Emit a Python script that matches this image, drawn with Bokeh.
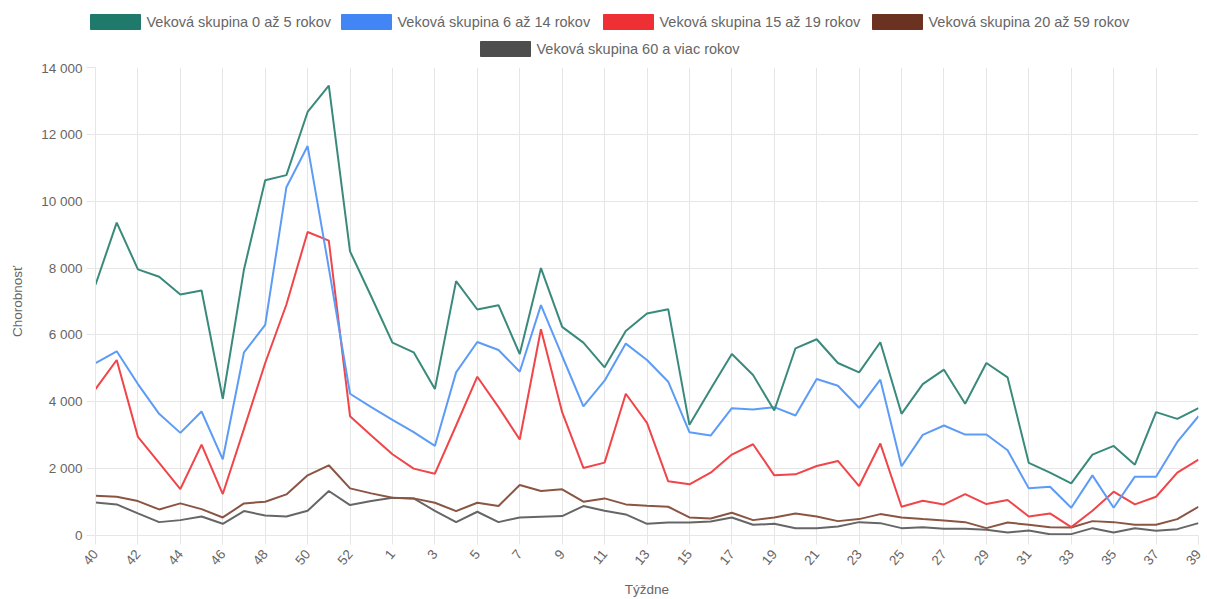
import math
from bokeh.plotting import figure
from bokeh.layouts import column, row
from bokeh.models import Range1d, FixedTicker
from bokeh.core.properties import value
from bokeh.embed import file_html
from bokeh.resources import INLINE

weeks = [str(w) for w in range(40, 54)] + [str(w) for w in range(1, 40)]

series_names = [
    "Veková skupina 0 až 5 rokov",
    "Veková skupina 6 až 14 rokov",
    "Veková skupina 15 až 19 rokov",
    "Veková skupina 20 až 59 rokov",
    "Veková skupina 60 a viac rokov",
]

age_0_5 = [7500, 9360, 7960, 7740, 7210, 7330, 4090, 7960, 10630, 10780, 12670, 13460, 8500,
           7150,
           5770, 5480, 4380, 7610, 6760, 6890, 5430, 8000, 6240, 5770, 5030, 6120,
           6640, 6770, 3310, 4380, 5430, 4800, 3740, 5600, 5870, 5160, 4880, 5780,
           3640, 4530, 4960, 3940, 5160, 4730, 2170, 1880, 1560, 2420, 2680, 2120, 3690, 3490, 3810]
age_6_14 = [5160, 5510, 4530, 3640, 3070, 3710, 2280, 5480, 6300, 10420, 11650, 8000, 4240,
            3840,
            3460, 3090, 2680, 4880, 5790, 5550, 4900, 6890, 5370, 3860, 4630, 5740,
            5250, 4600, 3090, 2990, 3810, 3770, 3840, 3590, 4680, 4480, 3820, 4660,
            2070, 3010, 3290, 3020, 3020, 2550, 1410, 1460, 830, 1800, 830, 1760, 1760, 2800, 3570]
age_15_19 = [4380, 5250, 2950, 2170, 1390, 2720, 1240, 3190, 5160, 6910, 9080, 8820, 3570,
             2990,
             2430, 2000, 1850, 3290, 4750, 3840, 2870, 6170, 3690, 2020, 2180, 4240,
             3370, 1620, 1530, 1880, 2420, 2730, 1800, 1830, 2080, 2230, 1480, 2750,
             860, 1040, 930, 1240, 940, 1060, 570, 660, 250, 740, 1310, 930, 1160, 1880, 2270]
age_20_59 = [1190, 1160, 1030, 780, 960, 790, 540, 960, 1010, 1230, 1800, 2100, 1410,
             1260,
             1130, 1110, 980, 730, 980, 880, 1510, 1330, 1380, 1010, 1110, 930,
             890, 860, 540, 510, 680, 460, 540, 660, 570, 430, 490, 640,
             540, 490, 450, 400, 220, 390, 320, 250, 240, 430, 400, 320, 320, 490, 860]
age_60 = [990, 930, 660, 400, 460, 570, 350, 730, 600, 570, 740, 1330, 910,
          1030,
          1130, 1110, 740, 400, 710, 400, 540, 560, 580, 880, 740, 630,
          350, 390, 390, 420, 540, 320, 350, 220, 220, 270, 400, 370,
          220, 250, 200, 200, 170, 90, 150, 40, 40, 220, 90, 220, 140, 190, 370]

y_ticks = [0, 2000, 4000, 6000, 8000, 10000, 12000, 14000]
y_tick_labels = ["0", "2 000", "4 000", "6 000", "8 000", "10 000", "12 000", "14 000"]

box_colors = ["#1f7a6b", "#4286f5", "#ee2f33", "#6b3222", "#4d4d4d"]
line_colors = ["#3a8a7c", "#5c9cf6", "#f04549", "#8a5543", "#666666"]

FONT = "Liberation Sans"
TXT = "#666666"
GRID = "#e6e6e6"
W = 1205

# ---------- legend strip (screen-pixel coordinates) ----------
leg_h = 60
leg = figure(width=W, height=leg_h, output_backend="svg", toolbar_location=None,
             x_range=Range1d(0, W), y_range=Range1d(leg_h, 0),
             min_border=0, min_border_left=0, min_border_right=0, min_border_top=0, min_border_bottom=0)
leg.axis.visible = False
leg.grid.visible = False
leg.outline_line_color = None

leg_box_left = [90, 341, 603, 872, 480]
leg_box_top = [14, 14, 14, 14, 41]
box_w, box_h = 50, 15
leg.quad(left=leg_box_left, right=[v + box_w for v in leg_box_left],
         top=leg_box_top, bottom=[v + box_h for v in leg_box_top],
         fill_color=box_colors, line_color=box_colors, line_width=1)
leg.text(x=[v + box_w + 6 for v in leg_box_left], y=[v + box_h / 2 for v in leg_box_top],
         text=series_names, text_font=value(FONT), text_font_size="14.5px",
         text_color=TXT, text_baseline="middle", text_align="left")

# ---------- main chart ----------
x = list(range(len(weeks)))

p = figure(width=W, height=539, output_backend="svg", toolbar_location=None,
           x_range=Range1d(0, len(weeks) - 1), y_range=Range1d(0, 14000),
           min_border_left=95, min_border_right=7, min_border_top=7, min_border_bottom=62)
p.outline_line_color = None
p.background_fill_color = "white"

series = [age_0_5, age_6_14, age_15_19, age_20_59, age_60]
for vals, lc in reversed(list(zip(series, line_colors))):
    p.line(x, vals, line_color=lc, line_width=2)

p.xaxis.ticker = FixedTicker(ticks=list(range(0, len(weeks), 2)))
p.xaxis.major_label_overrides = {i: weeks[i] for i in range(0, len(weeks), 2)}
p.xaxis.major_label_orientation = math.radians(50)
p.yaxis.ticker = FixedTicker(ticks=y_ticks)
p.yaxis.major_label_overrides = {t: l for t, l in zip(y_ticks, y_tick_labels)}

for ax in (p.xaxis, p.yaxis):
    ax.axis_line_color = GRID
    ax.major_tick_line_color = GRID
    ax.major_tick_out = 9
    ax.major_tick_in = 0
    ax.minor_tick_line_color = None
    ax.major_label_text_font = FONT
    ax.major_label_text_font_size = "13.5px"
    ax.major_label_text_color = TXT
    ax.axis_label_text_font = FONT
    ax.axis_label_text_font_size = "13.5px"
    ax.axis_label_text_color = TXT
    ax.axis_label_text_font_style = "normal"

p.xaxis.axis_label = "Týždne"
p.yaxis.axis_label = "Chorobnosť"
p.xaxis.major_label_standoff = 7
p.yaxis.major_label_standoff = 4
p.xaxis.axis_label_standoff = 10
p.yaxis.axis_label_standoff = 13

p.xgrid.grid_line_color = GRID
p.ygrid.grid_line_color = GRID

layout = column(row(leg), p, spacing=0)
open("out.html", "w").write(file_html(layout, INLINE))
